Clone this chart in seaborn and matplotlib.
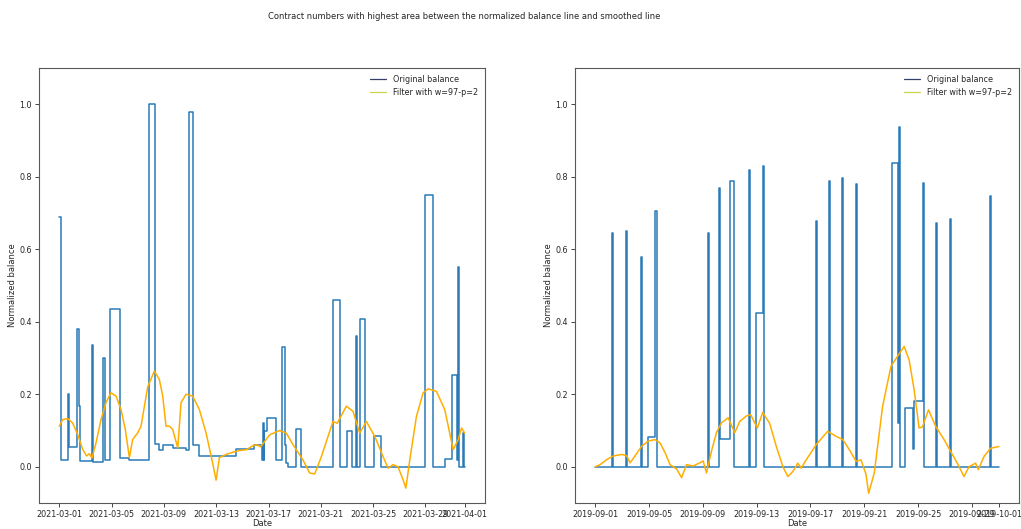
import pandas as pd
import numpy as np
import matplotlib
matplotlib.use('Agg')
import matplotlib.pyplot as plt
from matplotlib.lines import Line2D
import seaborn as sns

# ── Data ──────────────────────────────────────────────────────
# left contract, March 2021 : day offsets from start, step values
left_start = '2021-03-01'
left_bal_days = [0.0, 0.15, 0.64, 0.71, 1.33, 1.48, 1.58, 2.50, 2.58, 3.37,
                 3.52, 3.90, 4.64, 5.36, 6.89, 7.32, 7.60, 7.90, 8.67, 9.69,
                 9.90, 10.26, 10.66, 13.55, 14.9, 15.5, 15.55, 15.62, 15.68, 15.9,
                 16.6, 17.0, 17.23, 17.35, 17.5, 18.1, 18.5, 20.9, 21.45, 22.0,
                 22.4, 22.68, 22.75, 23.0, 23.35, 24.05, 24.6, 28.0, 28.55, 29.5,
                 30.0, 30.4, 30.48, 30.55, 30.6, 30.85, 30.95, 31.0]
left_bal = [0.69, 0.02, 0.20, 0.054, 0.38, 0.167, 0.015, 0.335, 0.012, 0.30,
            0.02, 0.435, 0.025, 0.018, 1.0, 0.062, 0.045, 0.06, 0.052, 0.045,
            0.98, 0.06, 0.03, 0.05, 0.06, 0.02, 0.12, 0.02, 0.10, 0.135,
            0.02, 0.33, 0.06, 0.01, 0.0, 0.105, 0.0, 0.46, 0.0, 0.10,
            0.0, 0.36, 0.0, 0.407, 0.0, 0.086, 0.0, 0.75, 0.0, 0.022,
            0.254, 0.02, 0.55, 0.05, 0.0, 0.093, 0.0, 0.0]

left_smooth_days = [0.0, 0.26, 0.64, 1.02, 1.40, 1.79, 2.09, 2.30, 2.50, 2.81,
                    3.19, 3.57, 3.95, 4.34, 4.72, 5.05, 5.36, 5.61, 6.00, 6.25,
                    6.76, 7.27, 7.65, 7.91, 8.16, 8.42, 8.67, 9.06, 9.31, 9.69,
                    10.20, 10.71, 11.22, 11.73, 11.99, 12.24, 12.76, 13.27, 13.78, 14.30,
                    14.80, 15.06, 15.40, 16.08, 16.85, 17.36, 17.87, 18.63, 19.14, 19.53,
                    20.04, 20.55, 20.93, 21.25, 21.95, 22.46, 22.97, 23.48, 24.12, 24.76,
                    25.14, 25.52, 25.90, 26.29, 26.50, 26.80, 27.31, 27.82, 28.20, 28.84,
                    29.48, 30.12, 30.50, 30.76, 31.00]
left_smooth = [0.112, 0.13, 0.133, 0.121, 0.09, 0.048, 0.03, 0.036, 0.024, 0.066,
               0.13, 0.177, 0.204, 0.195, 0.158, 0.103, 0.025, 0.075, 0.094, 0.112,
               0.22, 0.264, 0.241, 0.195, 0.112, 0.112, 0.103, 0.052, 0.177, 0.20,
               0.195, 0.158, 0.094, 0.01, -0.037, 0.025, 0.034, 0.04, 0.045, 0.047,
               0.058, 0.061, 0.055, 0.088, 0.10, 0.093, 0.061, 0.019, -0.017, -0.02,
               0.028, 0.084, 0.125, 0.12, 0.167, 0.153, 0.093, 0.125, 0.084, 0.028,
               -0.004, 0.006, 0.0, -0.036, -0.059, 0.019, 0.139, 0.204, 0.215, 0.208,
               0.157, 0.047, 0.075, 0.107, 0.093]

# right contract, September 2019
right_start = '2019-09-01'
right_bal_days = [0.0, 1.25, 1.32, 2.29, 2.36, 3.43, 3.50, 3.95, 4.48, 4.56,
                  8.37, 8.44, 9.23, 9.30, 10.04, 10.28, 11.45, 11.52, 11.98, 12.50,
                  12.57, 16.40, 16.46, 17.38, 17.44, 18.37, 18.43, 19.40, 19.46, 22.05,
                  22.47, 22.57, 22.64, 23.05, 23.60, 23.70, 24.34, 24.40, 25.33, 25.43,
                  26.39, 26.45, 29.35, 29.41, 30.0]
right_bal = [0.0, 0.646, 0.0, 0.65, 0.0, 0.58, 0.0, 0.082, 0.706, 0.0,
             0.645, 0.0, 0.77, 0.078, 0.788, 0.0, 0.82, 0.0, 0.425, 0.83,
             0.0, 0.678, 0.0, 0.788, 0.0, 0.798, 0.0, 0.779, 0.0, 0.837,
             0.12, 0.936, 0.0, 0.163, 0.05, 0.181, 0.784, 0.0, 0.673, 0.0,
             0.683, 0.0, 0.747, 0.0, 0.0]

right_smooth_days = [0.0, 0.37, 0.86, 1.36, 1.98, 2.35, 2.59, 2.96, 3.46, 3.95,
                     4.44, 4.81, 5.19, 5.56, 6.05, 6.42, 6.79, 7.28, 7.78, 8.02,
                     8.27, 8.64, 9.01, 9.38, 9.88, 10.37, 10.74, 11.23, 11.55, 12.05,
                     12.45, 12.96, 13.46, 13.95, 14.32, 14.69, 15.06, 15.31, 15.68, 16.42,
                     17.28, 17.90, 18.40, 18.89, 19.38, 19.75, 20.12, 20.32, 20.74, 21.36,
                     21.98, 22.47, 22.96, 23.33, 23.70, 24.07, 24.32, 24.77, 25.31, 25.93,
                     26.42, 26.91, 27.41, 27.78, 28.27, 28.47, 28.89, 29.38, 30.0]
right_smooth = [0.0, 0.006, 0.02, 0.03, 0.034, 0.03, 0.011, 0.03, 0.057, 0.071,
                0.075, 0.066, 0.039, 0.006, -0.006, -0.03, 0.006, 0.002, 0.011, 0.016,
                -0.017, 0.043, 0.094, 0.121, 0.135, 0.094, 0.125, 0.14, 0.144, 0.107,
                0.15, 0.12, 0.056, 0.0, -0.027, -0.013, 0.01, -0.004, 0.019, 0.061,
                0.098, 0.084, 0.075, 0.047, 0.015, 0.019, -0.02, -0.073, -0.017, 0.167,
                0.277, 0.305, 0.332, 0.295, 0.213, 0.107, 0.11, 0.157, 0.111, 0.075,
                0.042, 0.01, -0.027, 0.0, 0.01, -0.008, 0.028, 0.051, 0.056]

legend_labels = ['Original balance', 'Filter with w=97-p=2']


def to_frame(start, days, values):
    return pd.DataFrame({'date': pd.Timestamp(start) + pd.to_timedelta(days, unit='D'),
                         'value': values})


# ── Plot ───────────────────────────────────────────────────────
sns.set_style('ticks')
plt.rcParams['font.family'] = ['DejaVu Sans']

fig = plt.figure(figsize=(10.21, 5.29), dpi=100)
fig.suptitle('Contract numbers with highest area between the normalized balance line and smoothed line',
             fontsize=6, x=0.455, y=0.978)

ax_left = fig.add_axes([0.0382, 0.0491, 0.4368, 0.8223])
ax_right = fig.add_axes([0.5632, 0.0491, 0.4349, 0.8223])

panels = [(ax_left, left_start, left_bal_days, left_bal, left_smooth_days, left_smooth),
          (ax_right, right_start, right_bal_days, right_bal, right_smooth_days, right_smooth)]

for ax, start, bd, bv, sd, sv in panels:
    bal_df = to_frame(start, bd, bv)
    smo_df = to_frame(start, sd, sv)
    sns.lineplot(data=bal_df, x='date', y='value', ax=ax, estimator=None,
                 drawstyle='steps-post', color='#2a7ab9', linewidth=1.1, legend=False)
    sns.lineplot(data=smo_df, x='date', y='value', ax=ax, estimator=None,
                 color='#FFAE00', linewidth=1.1, legend=False)
    ax.set_ylim(-0.1, 1.1)
    ax.set_xlabel('Date', fontsize=6, labelpad=0)
    ax.set_ylabel('Normalized balance', fontsize=6, labelpad=2)
    ax.tick_params(labelsize=5.8, length=3, width=0.6, pad=2)
    for sp in ax.spines.values():
        sp.set_color('0.35')
        sp.set_linewidth(0.8)
    handles = [Line2D([], [], color='#34406b', linewidth=0.9),
               Line2D([], [], color='#c9d64a', linewidth=0.9)]
    ax.legend(handles, legend_labels, loc='upper right', fontsize=5.8, frameon=False)

plt.savefig('out.png', dpi=100)
